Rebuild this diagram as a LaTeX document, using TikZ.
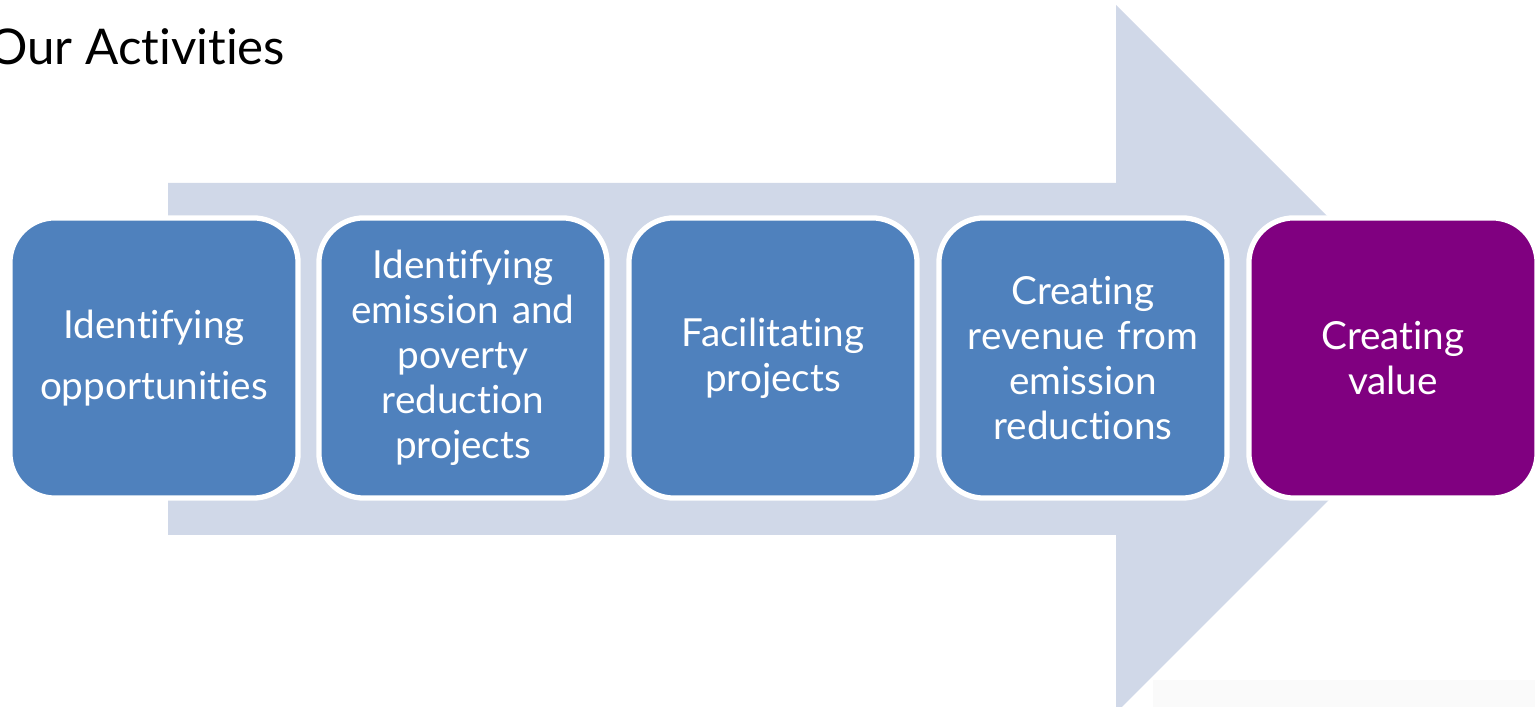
\documentclass[tikz,border=0pt]{standalone}
\usepackage{fontspec}
\setmainfont{Lato}[Ligatures=NoCommon]
\definecolor{shaft}{HTML}{D0D8E8}
\definecolor{stepblue}{HTML}{4F81BD}
\definecolor{valuepurple}{HTML}{800080}
\tikzset{
  activity/.style={draw=white, line width=1.5pt, rounded corners=0.45cm,
    fill=stepblue, text=white, minimum width=2.88cm, minimum height=2.8cm,
    text width=2.6cm, align=center, inner sep=0pt,
    font=\fontsize{11}{12.8}\selectfont},
}
\begin{document}
\begin{tikzpicture}[x=0.01cm,y=-0.01cm]
  \useasboundingbox (0,0) rectangle (1535,707);
  \fill[shaft] (168,183) -- (1116,183) -- (1116,5) -- (1470,359)
    -- (1116,713) -- (1116,535) -- (168,535) -- cycle;
  \fill[black!2] (1153,680) rectangle (1535,707);
  \node[anchor=base west, font=\fontsize{14}{16}\selectfont] (title) at (-24,65) {Our Activities};
  \node[activity] (opps) at (154,358) {Identifying\\[4.5pt]opportunities};
  \node[activity] (ident) at (463,358) {Identifying\\emission and\\poverty\\reduction\\projects};
  \node[activity] (facil) at (773,358) {Facilitating\\projects};
  \node[activity] (revenue) at (1083,358) {Creating\\revenue from\\emission\\reductions};
  \node[activity, fill=valuepurple] (value) at (1393,358) {Creating\\value};
\end{tikzpicture}
\end{document}
